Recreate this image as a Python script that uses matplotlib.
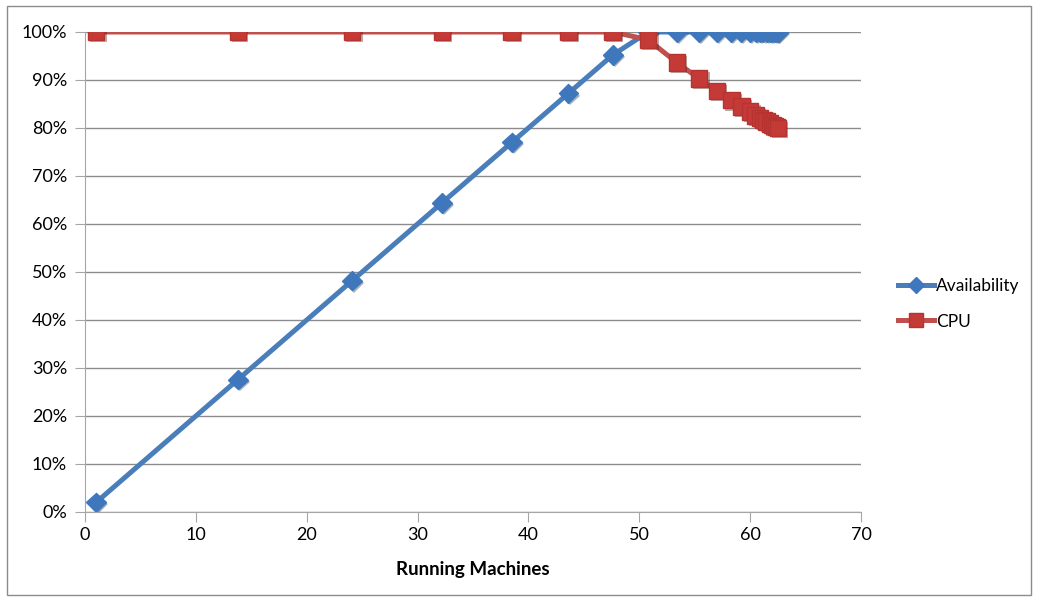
import matplotlib.pyplot as plt
import matplotlib.patheffects as pe
from matplotlib.lines import Line2D
from matplotlib.patches import Rectangle
from matplotlib.ticker import FuncFormatter

# Running machines vs. availability / CPU share
machines = [1, 13.8, 24.1, 32.2, 38.5, 43.6, 47.6, 50.8, 53.4, 55.4, 57.0, 58.3,
            59.2, 60.0, 60.5, 60.9, 61.2, 61.5, 61.8, 62.0, 62.2, 62.4, 62.5]
availability = [0.02, 0.276, 0.482, 0.644, 0.77, 0.872, 0.952, 1.0, 1.0, 1.0, 1.0, 1.0,
                1.0, 1.0, 1.0, 1.0, 1.0, 1.0, 1.0, 1.0, 1.0, 1.0, 1.0]
cpu = [1.0, 1.0, 1.0, 1.0, 1.0, 1.0, 1.0, 0.984, 0.936, 0.903, 0.877, 0.858,
       0.845, 0.834, 0.826, 0.821, 0.817, 0.813, 0.809, 0.806, 0.804, 0.802, 0.80]

plt.rcParams['font.family'] = ['Lato', 'DejaVu Sans']

fig = plt.figure(figsize=(10.38, 5.98), dpi=100)
ax = fig.add_axes([85 / 1038, 1 - 512 / 598, (861 - 85) / 1038, (512 - 32) / 598])

shadow = [pe.SimplePatchShadow(offset=(1.5, -1.5), alpha=0.35), pe.Normal()]

blue, blue_m = '#4A7EBB', '#3F77BC'
red, red_m = '#C0504D', '#C43A37'

ax.plot(machines, availability, color=blue, linewidth=3.6, solid_capstyle='round')
ax.plot(machines, availability, linestyle='none', marker='D', markersize=10,
        markerfacecolor=blue_m, markeredgecolor=blue_m, path_effects=shadow)
ax.plot(machines, cpu, color=red, linewidth=3.6, solid_capstyle='round')
ax.plot(machines, cpu, linestyle='none', marker='s', markersize=12,
        markerfacecolor=red_m, markeredgecolor='#B53431', path_effects=shadow)

ax.set_xlim(0, 70)
ax.set_ylim(0, 1.0)
ax.set_xticks(range(0, 71, 10))
ax.set_yticks([i / 10 for i in range(11)])
ax.yaxis.set_major_formatter(FuncFormatter(lambda v, _: f'{v * 100:.0f}%'))
ax.grid(axis='y', color='#8C8C8C', linewidth=1)
ax.set_axisbelow(True)

for side in ['top', 'right']:
    ax.spines[side].set_visible(False)
for side in ['left', 'bottom']:
    ax.spines[side].set_color('#A6A6A6')
ax.tick_params(axis='both', colors='#A6A6A6', length=7, labelsize=13,
               labelcolor='black', pad=4)
ax.tick_params(axis='y', pad=6)

ax.set_xlabel('Running Machines', fontsize=13.5, fontweight='bold', labelpad=13)

handles = [
    Line2D([], [], color=blue, linewidth=3.6, marker='D', markersize=8,
           markerfacecolor=blue_m, markeredgecolor=blue_m),
    Line2D([], [], color=red, linewidth=3.6, marker='s', markersize=10,
           markerfacecolor=red_m, markeredgecolor='#B53431'),
]
ax.legend(handles, ['Availability', 'CPU'], loc='center left',
          bbox_to_anchor=(898 / 1038, 1 - 304 / 598), bbox_transform=fig.transFigure,
          frameon=False, fontsize=12.5, handlelength=2.1, handletextpad=0.1,
          labelspacing=1.1, borderaxespad=0, borderpad=0)

# chart border
fig.patches.append(Rectangle((7 / 1038, 3 / 598), 1024 / 1038, 589 / 598,
                             transform=fig.transFigure, fill=False,
                             edgecolor='#8C8C8C', linewidth=1))

fig.savefig('out.png', dpi=100)
